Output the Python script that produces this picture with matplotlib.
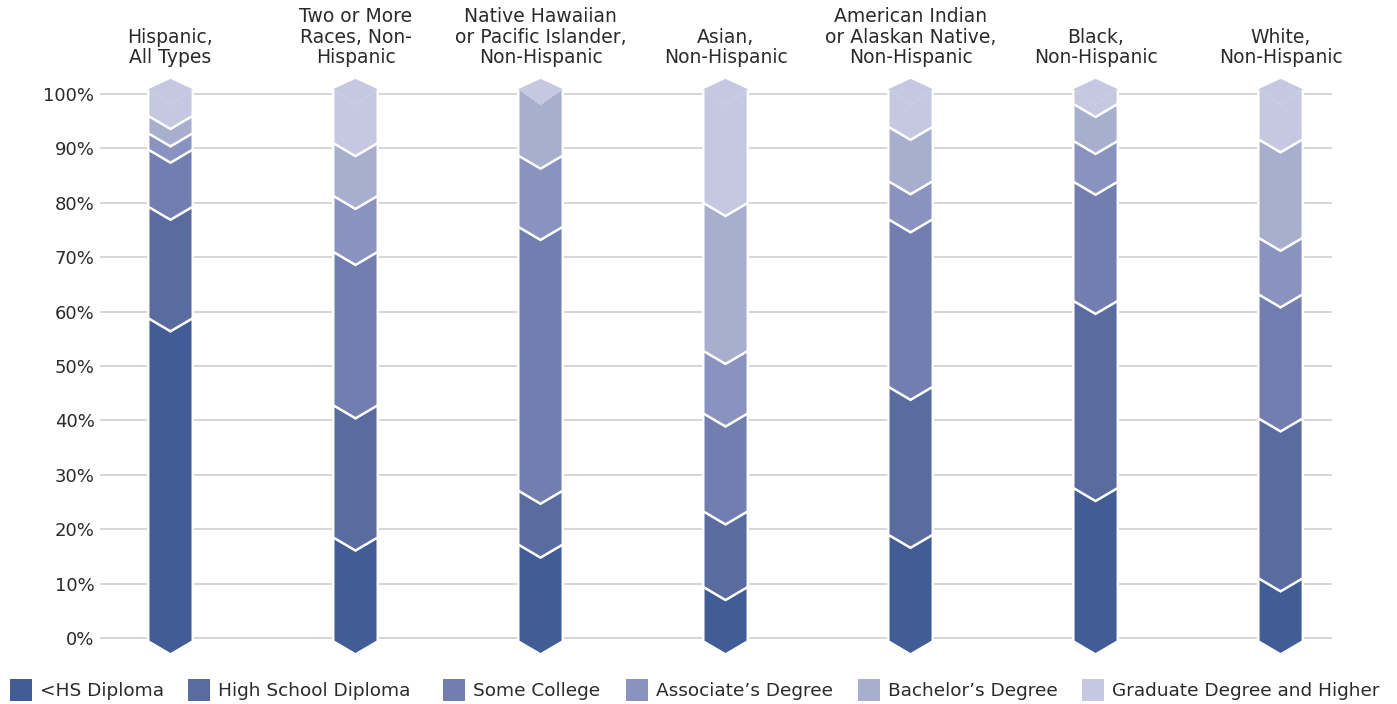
import matplotlib.pyplot as plt
from matplotlib.patches import Polygon, Rectangle
import numpy as np

plt.rcParams['font.family'] = ['DejaVu Sans']

# groups (bar titles)
groups = ['Hispanic,\nAll Types',
          'Two or More\nRaces, Non-\nHispanic',
          'Native Hawaiian\nor Pacific Islander,\nNon-Hispanic',
          'Asian,\nNon-Hispanic',
          'American Indian\nor Alaskan Native,\nNon-Hispanic',
          'Black,\nNon-Hispanic',
          'White,\nNon-Hispanic']

levels = ['<HS Diploma', 'High School Diploma', 'Some College',
          'Associate’s Degree', 'Bachelor’s Degree', 'Graduate Degree and Higher']

# share of each level per group (%)
lt_hs = [58.8, 18.5, 17.2, 9.4, 19.0, 27.6, 11.0]
hs_diploma = [20.5, 24.3, 9.9, 13.9, 27.2, 34.4, 29.4]
some_college = [10.5, 28.2, 48.5, 18.0, 30.8, 21.9, 22.8]
associates = [3.0, 10.3, 13.1, 11.5, 7.0, 7.5, 10.4]
bachelors = [3.2, 9.7, 11.3, 27.2, 10.0, 6.8, 18.1]
graduate = [4.0, 9.0, 0.0, 20.0, 6.0, 1.8, 8.3]

colors = ['#425c96', '#5a6ba0', '#717eaf', '#8a93bf', '#a7aece', '#c5c8e0']

series = [lt_hs, hs_diploma, some_college, associates, bachelors, graduate]

fig = plt.figure(figsize=(13.97, 7.04), dpi=100)
ax = fig.add_axes([100 / 1397, 44.2 / 704, 1232 / 1397, 587.5 / 704])
ax.set_xlim(-0.381, 6.278)
ax.set_ylim(-4, 104)

half_w = 0.12   # half bar width (x units)
dip = 2.4       # chevron depth (% units)
base = -0.6     # bottom corners sit a touch below 0
top_c = 100.9   # cap corners
top_peak = 102.8

for i in range(len(groups)):
    bottom = 0.0
    n_last = max(k for k in range(len(series)) if series[k][i] > 0)
    for k, s in enumerate(series):
        v = s[i]
        if v <= 0:
            continue
        top = bottom + v
        y0 = base if bottom == 0 else bottom
        if k == n_last:
            top = top_c
        pts = [(i - half_w, y0), (i, y0 - dip), (i + half_w, y0),
               (i + half_w, top), (i, top - dip if k != n_last else top), (i - half_w, top)]
        ax.add_patch(Polygon(pts, closed=True, facecolor=colors[k],
                             edgecolor='white', linewidth=1.7, joinstyle='miter', zorder=3))
        bottom += v
    # diamond cap on top
    cap = [(i - half_w, top_c), (i, top_peak), (i + half_w, top_c), (i, top_c - 2.9)]
    ax.add_patch(Polygon(cap, closed=True, facecolor=colors[-1], edgecolor='none', zorder=4))
    ax.plot([i - half_w, i, i + half_w], [top_c, top_c - 2.9, top_c],
            color='#d8daeb', lw=0.6, ls=(0, (2, 2)), zorder=5)
    ax.text(i, 1.009, groups[i], transform=ax.get_xaxis_transform(),
            ha='center', va='bottom', multialignment='center',
            fontsize=13.5, color='#2a2a2a', linespacing=1.1)

ax.set_yticks(np.arange(0, 101, 10))
ax.set_yticklabels([f'{v}%' for v in range(0, 101, 10)])
ax.tick_params(axis='y', length=0, pad=4, labelsize=13, labelcolor='#2a2a2a')
ax.set_xticks([])
ax.grid(axis='y', color='#cccccc', linewidth=1.1)
ax.set_axisbelow(True)
for sp in ax.spines.values():
    sp.set_visible(False)

# legend along the bottom
sq_x = [10, 188, 443, 626, 858, 1082]
for k, name in enumerate(levels):
    fig.patches.append(Rectangle((sq_x[k] / 1397, 3 / 704), 22 / 1397, 22 / 704,
                                 transform=fig.transFigure, facecolor=colors[k],
                                 edgecolor='none'))
    fig.text((sq_x[k] + 30) / 1397, 13 / 704, name, ha='left', va='center',
             fontsize=13.3, color='#2a2a2a')

fig.savefig('out.png', dpi=100)
